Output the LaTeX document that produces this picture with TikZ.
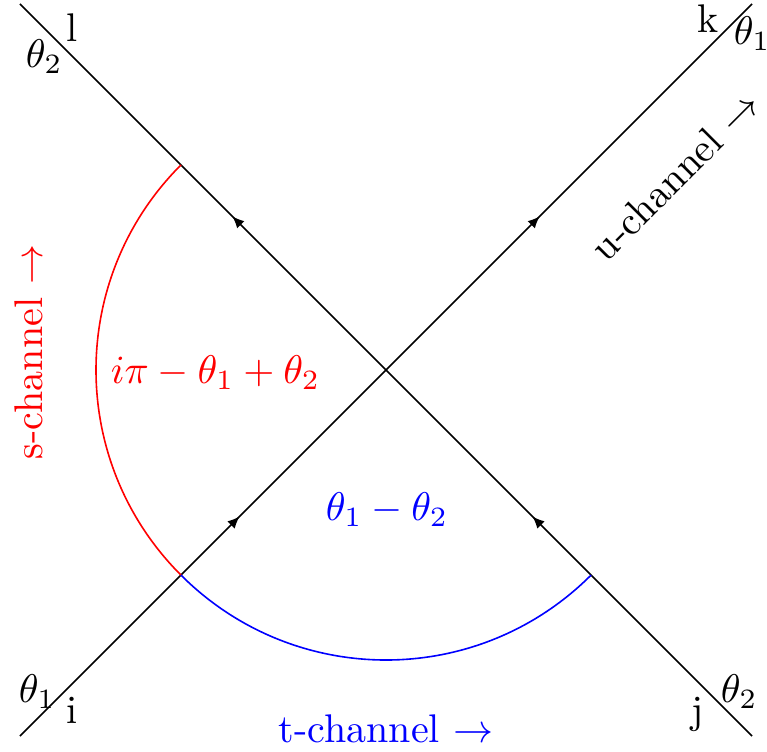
\documentclass[tikz,border=0pt]{standalone}
\usetikzlibrary{arrows.meta,decorations.markings}
\begin{document}
\begin{tikzpicture}[x=0.25pt,y=0.25pt,
  lbl/.style={inner sep=0pt,anchor=base},
  lblw/.style={inner sep=0pt,anchor=base west},
  prop/.style={line width=0.4pt,postaction={decorate},
    decoration={markings,
      mark=at position 0.3 with {\arrow{Latex[length=3pt,width=2.6pt]}},
      mark=at position 0.71 with {\arrow{Latex[length=3pt,width=2.6pt]}}}}]
\useasboundingbox (0,0) rectangle (767,751);
\coordinate (i) at (20,15);
\coordinate (k) at (752,747);
\coordinate (l) at (20,747);
\coordinate (j) at (752,15);
\coordinate (C) at (386,381);
\draw[prop] (i) -- (k);
\draw[prop] (j) -- (l);
\draw[red,line width=0.4pt] (C) ++(135:290) coordinate (rs) arc[start angle=135,end angle=225,radius=290] coordinate (rb);
\draw[blue,line width=0.4pt] (rb) arc[start angle=225,end angle=315,radius=290] coordinate (be);
\node[lbl] (nl) at (72,709) {l};
\node[lblw] (tl) at (25,683) {$\theta_2$};
\node[lbl] (nk) at (708,718) {k};
\node[lblw] (tk) at (733,706) {$\theta_1$};
\node[lblw] (ti) at (18,49) {$\theta_1$};
\node[lbl] (ni) at (72,28) {i};
\node[lbl] (nj) at (698,28) {j};
\node[lblw] (tj) at (720,49) {$\theta_2$};
\node[lblw,blue] (tch) at (278,9) {t-channel $\rightarrow$};
\node[lblw,red] (sch) at (42,291) [rotate=90] {s-channel $\rightarrow$};
\node[lblw] (uch) at (606,487) [rotate=45] {u-channel $\rightarrow$};
\node[lblw,red] (sang) at (110,368) {$i\pi-\theta_1+\theta_2$};
\node[lblw,blue] (tang) at (325,231) {$\theta_1-\theta_2$};
\end{tikzpicture}
\end{document}
